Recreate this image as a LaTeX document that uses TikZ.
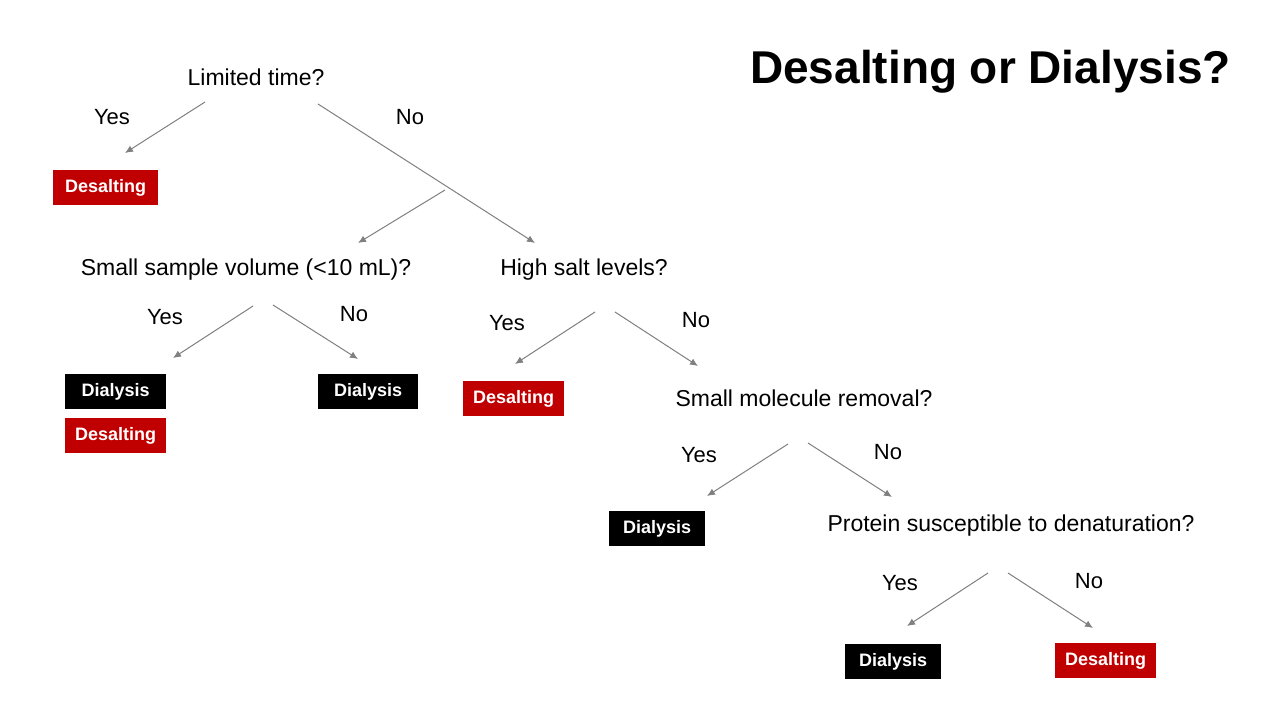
\documentclass[tikz,border=0pt]{standalone}
\usepackage{fontspec}
\setmainfont{Liberation Sans}
\usetikzlibrary{arrows.meta}
\begin{document}
\begin{tikzpicture}[x=1pt,y=-1pt,
  q/.style={font=\fontsize{23}{26}\selectfont,inner sep=0pt},
  lab/.style={font=\fontsize{22}{26}\selectfont,inner sep=0pt},
  red/.style={fill={rgb,255:red,192;green,0;blue,0}},
  blk/.style={fill=black},
  arr/.style={draw={rgb,255:red,128;green,128;blue,128},line width=1pt,-{Latex[length=8pt,width=7pt]}}]
\useasboundingbox (0,0) rectangle (1280,720);
\fill[white] (0,0) rectangle (1280,720);
\node[anchor=east,font=\fontsize{46}{52}\selectfont\bfseries,inner sep=0pt] (title) at (1231,72) {Desalting or Dialysis?};
\node[q] (q1) at (256,77) {Limited time?};
\node[q] (q2) at (246,270) {Small sample volume (<10 mL)?};
\node[q] (q3) at (584,270) {High salt levels?};
\node[q] (q4) at (804,398) {Small molecule removal?};
\node[q] (q5) at (1011,526) {Protein susceptible to denaturation?};
\node[lab] (y1) at (112,117) {Yes}; \node[lab] (n1) at (410,117) {No};
\node[lab] (y2) at (165,317) {Yes}; \node[lab] (n2) at (354,314) {No};
\node[lab] (y3) at (507,323) {Yes}; \node[lab] (n3) at (696,320) {No};
\node[lab] (y4) at (699,455) {Yes}; \node[lab] (n4) at (888,452) {No};
\node[lab] (y5) at (900,583) {Yes}; \node[lab] (n5) at (1089,581) {No};
\foreach \nm/\st/\x/\y/\w/\t in {b1/red/53/170/105/Desalting, b2/blk/65/374/101/Dialysis, b3/red/65/418/101/Desalting, b4/blk/318/374/100/Dialysis, b5/red/463/381/101/Desalting, b6/blk/609/511/96/Dialysis, b7/blk/845/644/96/Dialysis, b8/red/1055/643/101/Desalting}{
  \node[\st,minimum width=\w pt,minimum height=35pt,inner sep=0pt,anchor=north west,text=white,font=\fontsize{18}{20}\selectfont\bfseries] (\nm) at (\x,\y) {\t};
}
\coordinate (a1s) at (205,102); \coordinate (a1e) at (125,153);
\coordinate (a2s) at (318,104); \coordinate (a2e) at (535,243);
\coordinate (a3s) at (445,190); \coordinate (a3e) at (358,243);
\coordinate (a4s) at (253,306); \coordinate (a4e) at (173,358);
\coordinate (a5s) at (273,305); \coordinate (a5e) at (358,359);
\coordinate (a6s) at (595,312); \coordinate (a6e) at (515,364);
\coordinate (a7s) at (615,312); \coordinate (a7e) at (698,366);
\coordinate (a8s) at (788,444); \coordinate (a8e) at (707,496);
\coordinate (a9s) at (808,443); \coordinate (a9e) at (892,497);
\coordinate (a10s) at (988,573); \coordinate (a10e) at (907,626);
\coordinate (a11s) at (1008,573); \coordinate (a11e) at (1093,628);
\foreach \i in {1,...,11}{\draw[arr] (a\i s) -- (a\i e);}
\end{tikzpicture}
\end{document}
